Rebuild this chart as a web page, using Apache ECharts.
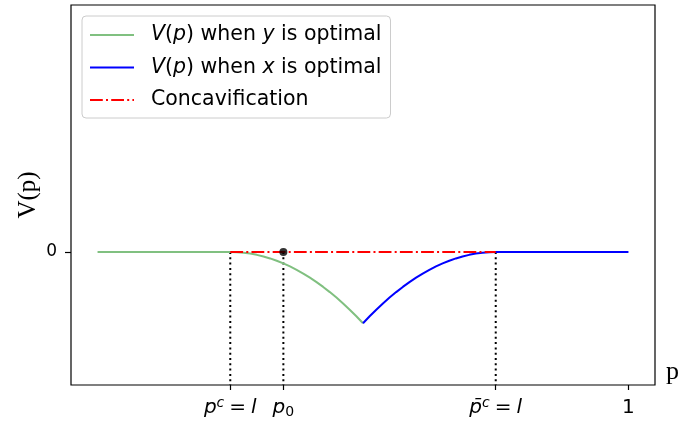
<!DOCTYPE html>
<html>
<head>
<meta charset="utf-8">
<script src="https://cdn.jsdelivr.net/npm/echarts@6/dist/echarts.min.js"></script>
<style>
  html, body { margin: 0; padding: 0; background: #fff; }
  #chart { width: 680px; height: 428px; }
</style>
</head>
<body>
<div id="chart"></div>
<script>
// Value function V(p) on the belief interval, read at regular steps of p.
const pGreen = [0, 0.25, 0.2625, 0.275, 0.2875, 0.3, 0.3125, 0.325, 0.3375, 0.35, 0.3625, 0.375, 0.3875,
  0.4, 0.4125, 0.425, 0.4375, 0.45, 0.4625, 0.475, 0.4875, 0.5];
const vGreen = [0, 0, -0.0005, -0.0019, -0.0042, -0.0075, -0.0117, -0.0169, -0.0230, -0.0300, -0.0380, -0.0469, -0.0567,
  -0.0675, -0.0792, -0.0919, -0.1055, -0.1200, -0.1355, -0.1519, -0.1692, -0.1875];

const pBlue = [0.5, 0.5125, 0.525, 0.5375, 0.55, 0.5625, 0.575, 0.5875, 0.6, 0.6125, 0.625, 0.6375,
  0.65, 0.6625, 0.675, 0.6875, 0.7, 0.7125, 0.725, 0.7375, 0.75, 1];
const vBlue = [-0.1875, -0.1692, -0.1519, -0.1355, -0.1200, -0.1055, -0.0919, -0.0792, -0.0675, -0.0567, -0.0469, -0.0380,
  -0.0300, -0.0230, -0.0169, -0.0117, -0.0075, -0.0042, -0.0019, -0.0005, 0, 0];

// Concavified value (flat at zero between the two cutoffs)
const pConcav = [0.25, 0.75];
const vConcav = [0, 0];

// Prior belief and the cutoff beliefs
const pPrior = 0.35;
const vPrior = 0;
const pCutLow = 0.25;
const pCutHigh = 0.75;

// Axis ticks
const xTickValues = [0.25, 0.35, 0.75, 1];
const xTickLabels = [
  '{i|p}{sup|c}{n|=}{i|l}',
  '{i|p}{sub|0}',
  '{i|p\u0304}{sup|c}{n|=}{i|l}',
  '{n|1}'
];
const yTickValues = [0];
const yTickLabels = ['0'];

const seriesNames = ['V(p) when y is optimal', 'V(p) when x is optimal', 'Concavification'];
const legendLabels = {
  'V(p) when y is optimal': '{g|}{i|V}({i|p}) when {i|y} is optimal',
  'V(p) when x is optimal': '{g|}{i|V}({i|p}) when {i|x} is optimal',
  'Concavification': '{g|}Concavification'
};

const zip = (xs, ys) => xs.map((x, k) => [x, ys[k]]);
const pickLabel = (vals, labels, v) => {
  for (let k = 0; k < vals.length; k++) if (Math.abs(vals[k] - v) < 1e-6) return labels[k];
  return '';
};

const sans = 'DejaVu Sans';
const serif = 'Liberation Serif';
const yMin = -0.35, yMax = 0.65;

const dotted = {color: '#000', width: 2, type: [2, 3.3], cap: 'butt'};

const chart = echarts.init(document.getElementById('chart'), null, {renderer: 'canvas'});
chart.setOption({
  animation: false,
  backgroundColor: '#fff',
  grid: {
    left: 71, top: 5, right: 25, bottom: 43,
    outerBoundsMode: 'none',
    containLabel: false,
    show: true, borderColor: '#000', borderWidth: 1.2, backgroundColor: 'transparent'
  },
  legend: {
    data: seriesNames,
    orient: 'vertical',
    left: 82, top: 16,
    padding: [8, 9, 7, 7],
    itemGap: 10.5,
    itemWidth: 44,
    itemHeight: 14,
    backgroundColor: 'rgba(255,255,255,0.8)',
    borderColor: '#cccccc',
    borderWidth: 1,
    borderRadius: 4,
    itemStyle: {opacity: 0},
    formatter: name => legendLabels[name],
    textStyle: {
      fontFamily: sans, fontSize: 20.5, color: '#000', lineHeight: 22,
      rich: {
        g: {width: 12},
        i: {fontFamily: sans, fontSize: 20.5, fontStyle: 'italic', color: '#000'}
      }
    }
  },
  xAxis: {
    type: 'value',
    min: -0.05, max: 1.05,
    name: 'p',
    nameLocation: 'end',
    nameGap: 11,
    nameMoveOverlap: false,
    nameTextStyle: {fontFamily: serif, fontSize: 26, color: '#000', verticalAlign: 'bottom', align: 'left'},
    axisLine: {show: false, onZero: false},
    splitLine: {show: false},
    axisTick: {show: true, customValues: xTickValues, length: 5, lineStyle: {color: '#000', width: 1.2}},
    axisLabel: {
      show: true,
      customValues: xTickValues,
      margin: 11,
      formatter: v => pickLabel(xTickValues, xTickLabels, v),
      color: '#000',
      fontFamily: sans, fontSize: 20,
      rich: {
        i: {fontFamily: sans, fontSize: 20, fontStyle: 'italic', color: '#000', lineHeight: 23},
        n: {fontFamily: sans, fontSize: 20, color: '#000', lineHeight: 23, padding: [0, 5, 0, 5]},
        sup: {fontFamily: sans, fontSize: 14, fontStyle: 'italic', color: '#000', lineHeight: 16, verticalAlign: 'top'},
        sub: {fontFamily: sans, fontSize: 14, color: '#000', lineHeight: 11, verticalAlign: 'bottom'}
      }
    }
  },
  yAxis: {
    type: 'value',
    min: yMin, max: yMax,
    name: 'V(p)',
    nameLocation: 'middle',
    nameRotate: 90,
    nameGap: 30,
    nameMoveOverlap: false,
    nameTextStyle: {fontFamily: serif, fontSize: 25, color: '#000'},
    axisLine: {show: false, onZero: false},
    splitLine: {show: false},
    axisTick: {show: true, customValues: yTickValues, length: 6, lineStyle: {color: '#000', width: 1.2}},
    axisLabel: {
      show: true,
      customValues: yTickValues,
      margin: 14,
      padding: [7, 0, 0, 0],
      formatter: v => pickLabel(yTickValues, yTickLabels, v),
      color: '#000', fontFamily: sans, fontSize: 17
    }
  },
  series: [
    {
      name: seriesNames[0], type: 'line', data: zip(pGreen, vGreen),
      symbol: 'none', smooth: false,
      lineStyle: {color: '#80c080', width: 2}, itemStyle: {color: '#80c080'}, z: 2
    },
    {
      name: seriesNames[1], type: 'line', data: zip(pBlue, vBlue),
      symbol: 'none', smooth: false,
      lineStyle: {color: '#0000ff', width: 2}, itemStyle: {color: '#0000ff'}, z: 2
    },
    {
      name: 'cutLow', type: 'line', data: [[pCutLow, 0], [pCutLow, yMin]],
      symbol: 'none', lineStyle: dotted, z: 1, silent: true
    },
    {
      name: 'prior', type: 'line', data: [[pPrior, 0], [pPrior, yMin]],
      symbol: 'none', lineStyle: dotted, z: 1, silent: true
    },
    {
      name: 'cutHigh', type: 'line', data: [[pCutHigh, 0], [pCutHigh, yMin]],
      symbol: 'none', lineStyle: dotted, z: 1, silent: true
    },
    {
      name: seriesNames[2], type: 'line', data: zip(pConcav, vConcav),
      symbol: 'none',
      lineStyle: {color: '#ff0000', width: 2, type: [12.8, 3.2, 2, 3.2], cap: 'butt'},
      itemStyle: {color: '#ff0000'}, z: 3
    },
    {
      name: 'priorPoint', type: 'scatter', data: [[pPrior, vPrior]],
      symbol: 'circle', symbolSize: 8, itemStyle: {color: '#000'}, z: 4, silent: true
    }
  ]
});
</script>
</body>
</html>
